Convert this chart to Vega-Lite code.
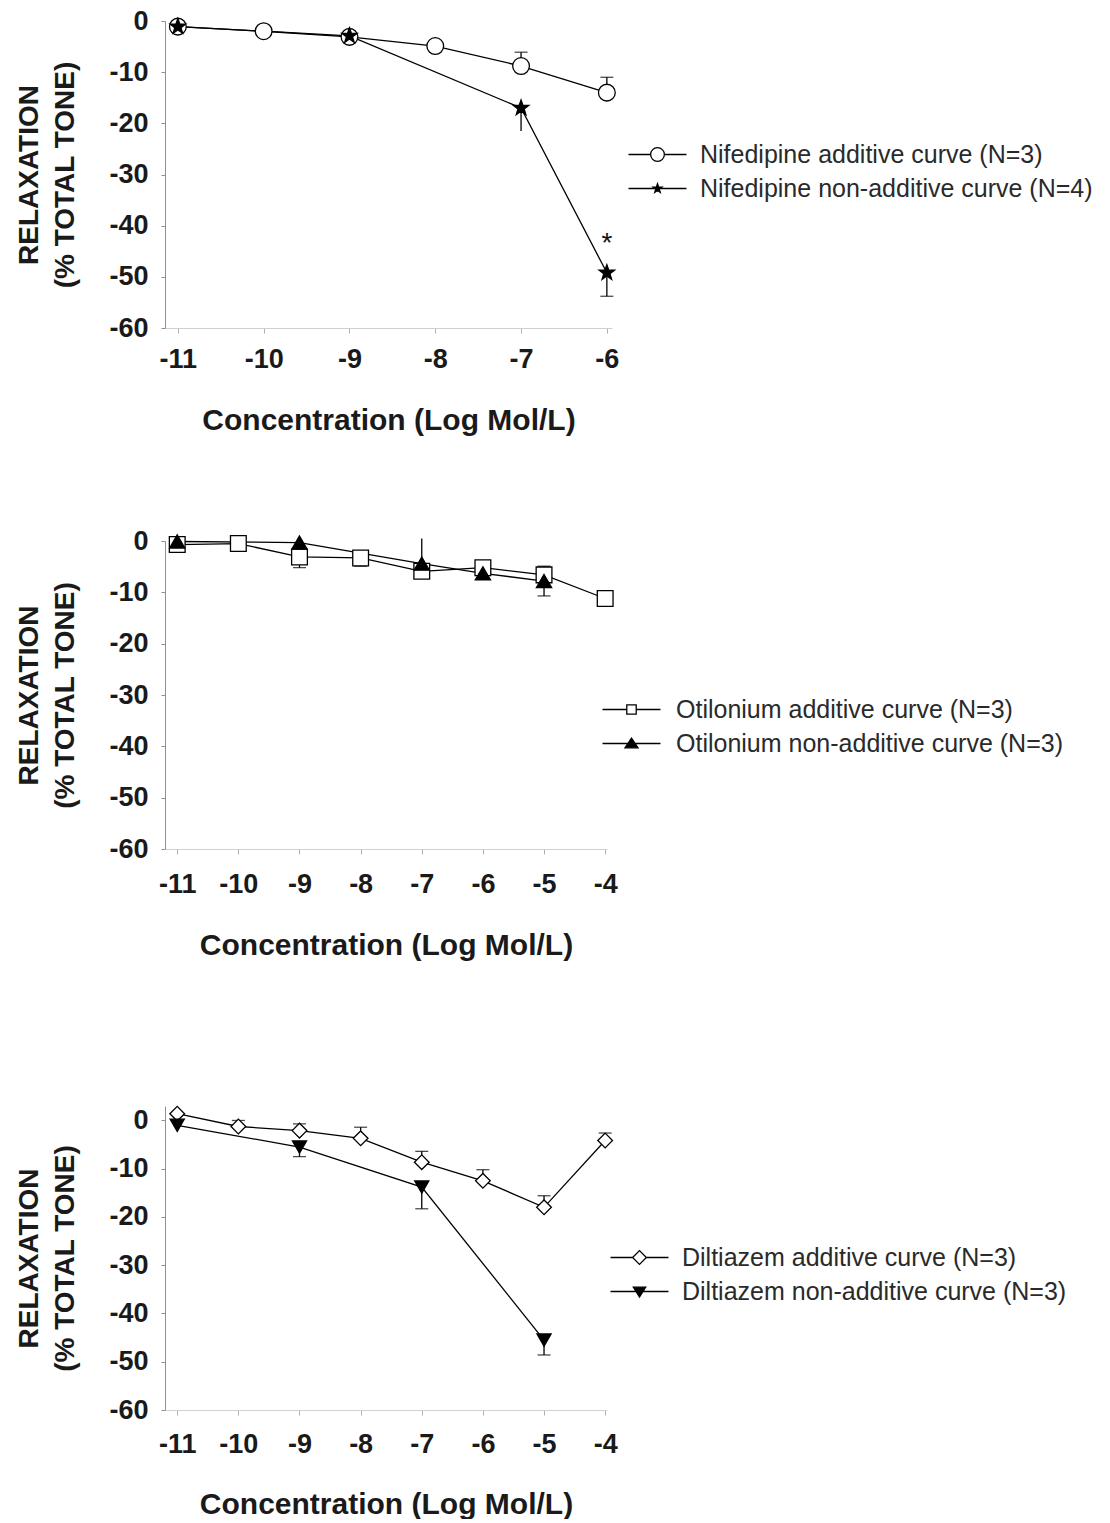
{
  "$schema": "https://vega.github.io/schema/vega-lite/v6.json",
  "padding": {"top": 7, "left": 15, "right": 0, "bottom": 0},
  "datasets": {
    "pts": [
      {"panel": "A", "series": "Nifedipine additive curve (N=3)", "x": -11, "y": -1.1, "err": null, "cap": false},
      {"panel": "A", "series": "Nifedipine additive curve (N=3)", "x": -10, "y": -2.0, "err": null, "cap": false},
      {"panel": "A", "series": "Nifedipine additive curve (N=3)", "x": -9, "y": -3.1, "err": null, "cap": false},
      {"panel": "A", "series": "Nifedipine additive curve (N=3)", "x": -8, "y": -4.9, "err": null, "cap": false},
      {"panel": "A", "series": "Nifedipine additive curve (N=3)", "x": -7, "y": -8.8, "err": -6.1, "cap": true},
      {"panel": "A", "series": "Nifedipine additive curve (N=3)", "x": -6, "y": -14.0, "err": -11.0, "cap": true},
      {"panel": "A", "series": "Nifedipine non-additive curve (N=4)", "x": -11, "y": -1.1, "err": null, "cap": false},
      {"panel": "A", "series": "Nifedipine non-additive curve (N=4)", "x": -9, "y": -2.9, "err": null, "cap": false},
      {"panel": "A", "series": "Nifedipine non-additive curve (N=4)", "x": -7, "y": -17.0, "err": -21.5, "cap": false},
      {"panel": "A", "series": "Nifedipine non-additive curve (N=4)", "x": -6, "y": -49.2, "err": -53.8, "cap": true},
      {"panel": "B", "series": "Otilonium additive curve (N=3)", "x": -11, "y": -0.7, "err": null, "cap": false},
      {"panel": "B", "series": "Otilonium additive curve (N=3)", "x": -10, "y": -0.5, "err": null, "cap": false},
      {"panel": "B", "series": "Otilonium additive curve (N=3)", "x": -9, "y": -3.1, "err": -5.2, "cap": true},
      {"panel": "B", "series": "Otilonium additive curve (N=3)", "x": -8, "y": -3.3, "err": -4.9, "cap": true},
      {"panel": "B", "series": "Otilonium additive curve (N=3)", "x": -7, "y": -5.9, "err": null, "cap": false},
      {"panel": "B", "series": "Otilonium additive curve (N=3)", "x": -6, "y": -5.2, "err": null, "cap": false},
      {"panel": "B", "series": "Otilonium additive curve (N=3)", "x": -5, "y": -6.6, "err": -4.9, "cap": true},
      {"panel": "B", "series": "Otilonium additive curve (N=3)", "x": -4, "y": -11.2, "err": null, "cap": false},
      {"panel": "B", "series": "Otilonium non-additive curve (N=3)", "x": -11, "y": -0.1, "err": null, "cap": false},
      {"panel": "B", "series": "Otilonium non-additive curve (N=3)", "x": -9, "y": -0.3, "err": null, "cap": false},
      {"panel": "B", "series": "Otilonium non-additive curve (N=3)", "x": -7, "y": -4.4, "err": 0.5, "cap": false},
      {"panel": "B", "series": "Otilonium non-additive curve (N=3)", "x": -6, "y": -6.3, "err": null, "cap": false},
      {"panel": "B", "series": "Otilonium non-additive curve (N=3)", "x": -5, "y": -7.8, "err": -10.7, "cap": true},
      {"panel": "C", "series": "Diltiazem additive curve (N=3)", "x": -11, "y": 1.4, "err": null, "cap": false},
      {"panel": "C", "series": "Diltiazem additive curve (N=3)", "x": -10, "y": -1.25, "err": 0.0, "cap": true},
      {"panel": "C", "series": "Diltiazem additive curve (N=3)", "x": -9, "y": -2.1, "err": -0.7, "cap": true},
      {"panel": "C", "series": "Diltiazem additive curve (N=3)", "x": -8, "y": -3.7, "err": -1.4, "cap": true},
      {"panel": "C", "series": "Diltiazem additive curve (N=3)", "x": -7, "y": -8.65, "err": -6.4, "cap": true},
      {"panel": "C", "series": "Diltiazem additive curve (N=3)", "x": -6, "y": -12.5, "err": -10.2, "cap": true},
      {"panel": "C", "series": "Diltiazem additive curve (N=3)", "x": -5, "y": -18.0, "err": -15.6, "cap": true},
      {"panel": "C", "series": "Diltiazem additive curve (N=3)", "x": -4, "y": -4.15, "err": -2.6, "cap": true},
      {"panel": "C", "series": "Diltiazem non-additive curve (N=3)", "x": -11, "y": -1.0, "err": null, "cap": false},
      {"panel": "C", "series": "Diltiazem non-additive curve (N=3)", "x": -9, "y": -5.5, "err": -7.5, "cap": true},
      {"panel": "C", "series": "Diltiazem non-additive curve (N=3)", "x": -7, "y": -13.8, "err": -18.3, "cap": true},
      {"panel": "C", "series": "Diltiazem non-additive curve (N=3)", "x": -5, "y": -45.5, "err": -48.6, "cap": true}
    ],
    "notes": [
      {"x": -6, "y": -42, "t": "*"}
    ]
  },
  "vconcat": [
    {
      "width": 447,
      "height": 307,
      "data": {"name": "pts"},
      "transform": [{"filter": "datum.panel == 'A'"}],
      "encoding": {
        "x": {"field": "x", "type": "quantitative", "scale": {"domain": [-11.15, -5.94], "nice": false, "zero": false}, "axis": {"values": [-11, -10, -9, -8, -7, -6], "labelExpr": "'' + datum.value", "title": "Concentration (Log Mol/L)"}}
      },
      "layer": [
        {
          "transform": [{"filter": "isValid(datum.err)"}],
          "mark": {"type": "rule", "color": "black", "strokeWidth": 1.3},
          "encoding": {
            "y": {"field": "y", "type": "quantitative", "scale": {"domain": [-60, 0], "nice": false, "zero": false}, "axis": {"values": [0, -10, -20, -30, -40, -50, -60], "labelExpr": "'' + datum.value", "title": ["RELAXATION", "(% TOTAL TONE)"]}},
            "y2": {"field": "err"}
          }
        },
        {
          "transform": [{"filter": "datum.cap"}],
          "mark": {"type": "tick", "orient": "horizontal", "color": "black", "size": 13, "thickness": 1.3},
          "encoding": {"y": {"field": "err", "type": "quantitative"}}
        },
        {
          "mark": {"type": "line", "color": "black", "strokeWidth": 1.3},
          "encoding": {"y": {"field": "y", "type": "quantitative"}, "detail": {"field": "series"}}
        },
        {
          "mark": {"type": "point", "filled": true, "stroke": "black", "strokeWidth": 1.3, "opacity": 1},
          "encoding": {
            "y": {"field": "y", "type": "quantitative"},
            "shape": {"field": "series", "scale": {"domain": ["Nifedipine additive curve (N=3)", "Nifedipine non-additive curve (N=4)"], "range": ["circle", "M0,-1L0.235,-0.324L0.951,-0.309L0.38,0.124L0.588,0.809L0,0.4L-0.588,0.809L-0.38,0.124L-0.951,-0.309L-0.235,-0.324Z"]}, "legend": null},
            "fill": {"field": "series", "scale": {"domain": ["Nifedipine additive curve (N=3)", "Nifedipine non-additive curve (N=4)"], "range": ["white", "black"]}, "legend": null},
            "size": {"field": "series", "scale": {"domain": ["Nifedipine additive curve (N=3)", "Nifedipine non-additive curve (N=4)"], "range": [280, 200]}, "legend": null}
          }
        },
        {
          "mark": {"type": "point", "filled": true, "stroke": "black", "opacity": 0},
          "encoding": {
            "y": {"field": "y", "type": "quantitative"},
            "shape": {"field": "series", "scale": {"domain": ["Nifedipine additive curve (N=3)", "Nifedipine non-additive curve (N=4)"], "range": ["M-4,0H-0.95M0.95,0H4M-0.95,0A0.95,0.95,0,1,0,0.95,0A0.95,0.95,0,1,0,-0.95,0Z", "M-4,0H4M0,-0.65L0.153,-0.21L0.618,-0.2L0.247,0.08L0.382,0.526L0,0.26L-0.382,0.526L-0.247,0.08L-0.618,-0.2L-0.153,-0.21Z"]}, "legend": {"orient": "none", "legendX": 480, "legendY": 121, "title": null, "padding": 0, "rowPadding": 8, "labelOffset": 30, "symbolSize": 210, "labelFontSize": 25, "labelFont": "Liberation Sans", "labelColor": "#2a2a2a", "labelLimit": 800, "symbolStrokeColor": "black", "symbolStrokeWidth": 1.3, "symbolOpacity": 1, "encode": {"symbols": {"update": {"stroke": {"value": "black"}, "strokeWidth": {"value": 1.3}, "strokeOpacity": {"value": 1}, "opacity": {"value": 1}}}}}},
            "fill": {"field": "series", "scale": {"domain": ["Nifedipine additive curve (N=3)", "Nifedipine non-additive curve (N=4)"], "range": ["white", "black"]}, "legend": {"orient": "none", "legendX": 480, "legendY": 121, "title": null, "padding": 0, "rowPadding": 8, "labelOffset": 30, "symbolSize": 210, "labelFontSize": 25, "labelFont": "Liberation Sans", "labelColor": "#2a2a2a", "labelLimit": 800, "symbolStrokeColor": "black", "symbolStrokeWidth": 1.3, "symbolOpacity": 1, "encode": {"symbols": {"update": {"stroke": {"value": "black"}, "strokeWidth": {"value": 1.3}, "strokeOpacity": {"value": 1}, "opacity": {"value": 1}}}}}}
          }
        },
        {
          "data": {"name": "notes"},
          "mark": {"type": "text", "fontSize": 28, "font": "Liberation Sans", "color": "#111111", "baseline": "middle", "dy": 8},
          "encoding": {"y": {"field": "y", "type": "quantitative"}, "text": {"field": "t"}}
        }
      ],
      "resolve": {"scale": {"shape": "independent", "fill": "independent"}, "legend": {"shape": "independent", "fill": "independent"}}
    },
    {
      "spacing": 143,
      "vconcat": [
        {
          "width": 442,
          "height": 308,
          "data": {"name": "pts"},
          "transform": [{"filter": "datum.panel == 'B'"}],
          "encoding": {
            "x": {"field": "x", "type": "quantitative", "scale": {"domain": [-11.2, -3.97], "nice": false, "zero": false}, "axis": {"values": [-11, -10, -9, -8, -7, -6, -5, -4], "labelExpr": "'' + datum.value", "title": "Concentration (Log Mol/L)", "labelPadding": 17, "titlePadding": 33}}
          },
          "layer": [
            {
              "transform": [{"filter": "isValid(datum.err)"}],
              "mark": {"type": "rule", "color": "black", "strokeWidth": 1.3},
              "encoding": {
                "y": {"field": "y", "type": "quantitative", "scale": {"domain": [-60, 0], "nice": false, "zero": false}, "axis": {"values": [0, -10, -20, -30, -40, -50, -60], "labelExpr": "'' + datum.value", "title": ["RELAXATION", "(% TOTAL TONE)"]}},
                "y2": {"field": "err"}
              }
            },
            {
              "transform": [{"filter": "datum.cap"}],
              "mark": {"type": "tick", "orient": "horizontal", "color": "black", "size": 13, "thickness": 1.3},
              "encoding": {"y": {"field": "err", "type": "quantitative"}}
            },
            {
              "mark": {"type": "line", "color": "black", "strokeWidth": 1.3},
              "encoding": {"y": {"field": "y", "type": "quantitative"}, "detail": {"field": "series"}}
            },
            {
              "mark": {"type": "point", "filled": true, "stroke": "black", "strokeWidth": 1.3, "opacity": 1},
              "encoding": {
                "y": {"field": "y", "type": "quantitative"},
                "shape": {"field": "series", "scale": {"domain": ["Otilonium additive curve (N=3)", "Otilonium non-additive curve (N=3)"], "range": ["square", "triangle-up"]}, "legend": null},
                "fill": {"field": "series", "scale": {"domain": ["Otilonium additive curve (N=3)", "Otilonium non-additive curve (N=3)"], "range": ["white", "black"]}, "legend": null},
                "size": {"field": "series", "scale": {"domain": ["Otilonium additive curve (N=3)", "Otilonium non-additive curve (N=3)"], "range": [190, 260]}, "legend": null}
              }
            },
            {
              "mark": {"type": "point", "filled": true, "stroke": "black", "opacity": 0},
              "encoding": {
                "y": {"field": "y", "type": "quantitative"},
                "shape": {"field": "series", "scale": {"domain": ["Otilonium additive curve (N=3)", "Otilonium non-additive curve (N=3)"], "range": ["M-4,0H-0.65M0.65,0H4M-0.65,-0.65H0.65V0.65H-0.65Z", "M-4,0H4M-0.9,0.6L0,-0.75L0.9,0.6Z"]}, "legend": {"orient": "none", "legendX": 454, "legendY": 156, "title": null, "padding": 0, "rowPadding": 8, "labelOffset": 32, "symbolSize": 210, "labelFontSize": 25, "labelFont": "Liberation Sans", "labelColor": "#2a2a2a", "labelLimit": 800, "symbolStrokeColor": "black", "symbolStrokeWidth": 1.3, "symbolOpacity": 1, "encode": {"symbols": {"update": {"stroke": {"value": "black"}, "strokeWidth": {"value": 1.3}, "strokeOpacity": {"value": 1}, "opacity": {"value": 1}}}}}},
                "fill": {"field": "series", "scale": {"domain": ["Otilonium additive curve (N=3)", "Otilonium non-additive curve (N=3)"], "range": ["white", "black"]}, "legend": {"orient": "none", "legendX": 454, "legendY": 156, "title": null, "padding": 0, "rowPadding": 8, "labelOffset": 32, "symbolSize": 210, "labelFontSize": 25, "labelFont": "Liberation Sans", "labelColor": "#2a2a2a", "labelLimit": 800, "symbolStrokeColor": "black", "symbolStrokeWidth": 1.3, "symbolOpacity": 1, "encode": {"symbols": {"update": {"stroke": {"value": "black"}, "strokeWidth": {"value": 1.3}, "strokeOpacity": {"value": 1}, "opacity": {"value": 1}}}}}}
              }
            }
          ],
          "resolve": {"scale": {"shape": "independent", "fill": "independent"}, "legend": {"shape": "independent", "fill": "independent"}}
        },
        {
          "width": 442,
          "height": 304,
          "data": {"name": "pts"},
          "transform": [{"filter": "datum.panel == 'C'"}],
          "encoding": {
            "x": {"field": "x", "type": "quantitative", "scale": {"domain": [-11.2, -3.97], "nice": false, "zero": false}, "axis": {"values": [-11, -10, -9, -8, -7, -6, -5, -4], "labelExpr": "'' + datum.value", "title": "Concentration (Log Mol/L)", "labelPadding": 16, "titlePadding": 32}}
          },
          "layer": [
            {
              "transform": [{"filter": "isValid(datum.err)"}],
              "mark": {"type": "rule", "color": "black", "strokeWidth": 1.3},
              "encoding": {
                "y": {"field": "y", "type": "quantitative", "scale": {"domain": [-60, 3], "nice": false, "zero": false}, "axis": {"values": [0, -10, -20, -30, -40, -50, -60], "labelExpr": "'' + datum.value", "title": ["RELAXATION", "(% TOTAL TONE)"]}},
                "y2": {"field": "err"}
              }
            },
            {
              "transform": [{"filter": "datum.cap"}],
              "mark": {"type": "tick", "orient": "horizontal", "color": "black", "size": 13, "thickness": 1.3},
              "encoding": {"y": {"field": "err", "type": "quantitative"}}
            },
            {
              "mark": {"type": "line", "color": "black", "strokeWidth": 1.3},
              "encoding": {"y": {"field": "y", "type": "quantitative"}, "detail": {"field": "series"}}
            },
            {
              "mark": {"type": "point", "filled": true, "stroke": "black", "strokeWidth": 1.3, "opacity": 1},
              "encoding": {
                "y": {"field": "y", "type": "quantitative"},
                "shape": {"field": "series", "scale": {"domain": ["Diltiazem additive curve (N=3)", "Diltiazem non-additive curve (N=3)"], "range": ["diamond", "triangle-down"]}, "legend": null},
                "fill": {"field": "series", "scale": {"domain": ["Diltiazem additive curve (N=3)", "Diltiazem non-additive curve (N=3)"], "range": ["white", "black"]}, "legend": null},
                "size": {"field": "series", "scale": {"domain": ["Diltiazem additive curve (N=3)", "Diltiazem non-additive curve (N=3)"], "range": [380, 300]}, "legend": null}
              }
            },
            {
              "mark": {"type": "point", "filled": true, "stroke": "black", "opacity": 0},
              "encoding": {
                "y": {"field": "y", "type": "quantitative"},
                "shape": {"field": "series", "scale": {"domain": ["Diltiazem additive curve (N=3)", "Diltiazem non-additive curve (N=3)"], "range": ["M-4,0H-0.95M0.95,0H4M-0.95,0L0,-0.95L0.95,0L0,0.95Z", "M-4,0H4M-0.85,-0.6L0,0.75L0.85,-0.6Z"]}, "legend": {"orient": "none", "legendX": 462, "legendY": 139, "title": null, "padding": 0, "rowPadding": 8, "labelOffset": 30, "symbolSize": 210, "labelFontSize": 25, "labelFont": "Liberation Sans", "labelColor": "#2a2a2a", "labelLimit": 800, "symbolStrokeColor": "black", "symbolStrokeWidth": 1.3, "symbolOpacity": 1, "encode": {"symbols": {"update": {"stroke": {"value": "black"}, "strokeWidth": {"value": 1.3}, "strokeOpacity": {"value": 1}, "opacity": {"value": 1}}}}}},
                "fill": {"field": "series", "scale": {"domain": ["Diltiazem additive curve (N=3)", "Diltiazem non-additive curve (N=3)"], "range": ["white", "black"]}, "legend": {"orient": "none", "legendX": 462, "legendY": 139, "title": null, "padding": 0, "rowPadding": 8, "labelOffset": 30, "symbolSize": 210, "labelFontSize": 25, "labelFont": "Liberation Sans", "labelColor": "#2a2a2a", "labelLimit": 800, "symbolStrokeColor": "black", "symbolStrokeWidth": 1.3, "symbolOpacity": 1, "encode": {"symbols": {"update": {"stroke": {"value": "black"}, "strokeWidth": {"value": 1.3}, "strokeOpacity": {"value": 1}, "opacity": {"value": 1}}}}}}
              }
            }
          ],
          "resolve": {"scale": {"shape": "independent", "fill": "independent"}, "legend": {"shape": "independent", "fill": "independent"}}
        }
      ]
    }
  ],
  "spacing": 92,
  "config": {
    "view": {"stroke": null},
    "font": "Liberation Sans",
    "axis": {"labelFont": "Liberation Sans", "labelFontSize": 27, "labelFontWeight": "bold", "labelColor": "#1a1a1a", "titleFont": "Liberation Sans", "titleFontWeight": "bold", "titleColor": "#1a1a1a", "grid": false, "tickSize": 5},
    "axisX": {"domainColor": "#d0d0d0", "tickColor": "#b0b0b0", "labelPadding": 13, "titleFontSize": 30, "titlePadding": 33},
    "axisY": {"domainColor": "#909090", "tickColor": "#909090", "tickSize": 4, "labelPadding": 13, "titleFontSize": 28, "titleLineHeight": 36, "titlePadding": 29}
  }
}
